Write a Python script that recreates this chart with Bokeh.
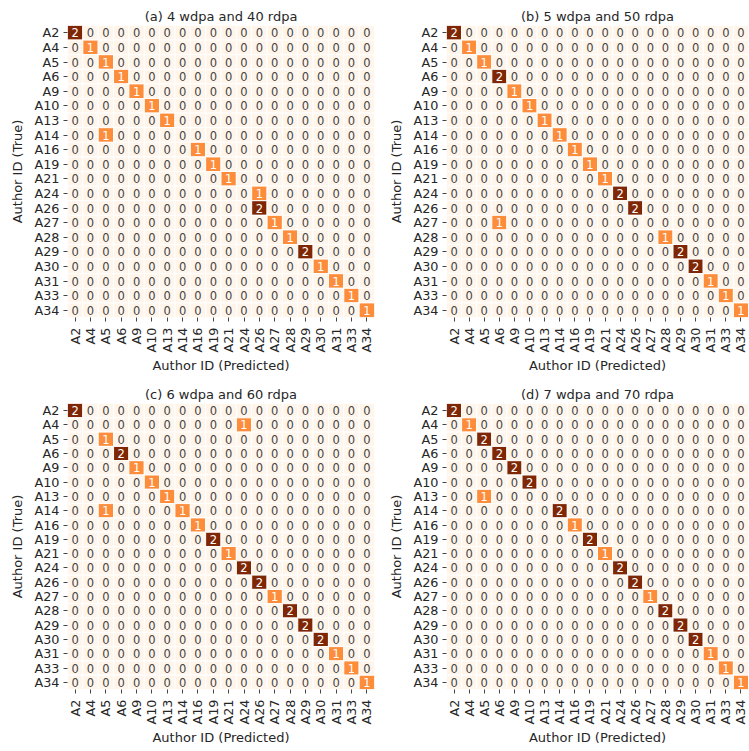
import math
from bokeh.plotting import figure
from bokeh.layouts import column, row
from bokeh.models import ColumnDataSource, FactorRange, LinearColorMapper
from bokeh.palettes import Oranges256
from bokeh.transform import transform
from bokeh.core.properties import value
from bokeh.embed import file_html
from bokeh.resources import INLINE

authors = ["A2", "A4", "A5", "A6", "A9", "A10", "A13", "A14", "A16", "A19",
           "A21", "A24", "A26", "A27", "A28", "A29", "A30", "A31", "A33", "A34"]

# Non-zero cells of each confusion matrix: (true author, predicted author, count)
a_true  = ["A2", "A4", "A5", "A6", "A9", "A10", "A13", "A14", "A16", "A19", "A21", "A24", "A26", "A27", "A28", "A29", "A30", "A31", "A33", "A34"]
a_pred  = ["A2", "A4", "A5", "A6", "A9", "A10", "A13", "A5",  "A16", "A19", "A21", "A26", "A26", "A27", "A28", "A29", "A30", "A31", "A33", "A34"]
a_count = [2, 1, 1, 1, 1, 1, 1, 1, 1, 1, 1, 1, 2, 1, 1, 2, 1, 1, 1, 1]

b_true  = ["A2", "A4", "A5", "A6", "A9", "A10", "A13", "A14", "A16", "A19", "A21", "A24", "A26", "A27", "A28", "A29", "A30", "A31", "A33", "A34"]
b_pred  = ["A2", "A4", "A5", "A6", "A9", "A10", "A13", "A14", "A16", "A19", "A21", "A24", "A26", "A6",  "A28", "A29", "A30", "A31", "A33", "A34"]
b_count = [2, 1, 1, 2, 1, 1, 1, 1, 1, 1, 1, 2, 2, 1, 1, 2, 2, 1, 1, 1]

c_true  = ["A2", "A4",  "A5", "A6", "A9", "A10", "A13", "A14", "A14", "A16", "A19", "A21", "A24", "A26", "A27", "A28", "A29", "A30", "A31", "A33", "A34"]
c_pred  = ["A2", "A24", "A5", "A6", "A9", "A10", "A13", "A5",  "A14", "A16", "A19", "A21", "A24", "A26", "A27", "A28", "A29", "A30", "A31", "A33", "A34"]
c_count = [2, 1, 1, 2, 1, 1, 1, 1, 1, 1, 2, 1, 2, 2, 1, 2, 2, 2, 1, 1, 1]

d_true  = ["A2", "A4", "A5", "A6", "A9", "A10", "A13", "A14", "A16", "A19", "A21", "A24", "A26", "A27", "A28", "A29", "A30", "A31", "A33", "A34"]
d_pred  = ["A2", "A4", "A5", "A6", "A9", "A10", "A5",  "A14", "A16", "A19", "A21", "A24", "A26", "A27", "A28", "A29", "A30", "A31", "A33", "A34"]
d_count = [2, 1, 2, 2, 2, 2, 1, 2, 1, 2, 1, 2, 2, 1, 2, 2, 2, 1, 1, 1]

titles = ["(a) 4 wdpa and 40 rdpa", "(b) 5 wdpa and 50 rdpa",
          "(c) 6 wdpa and 60 rdpa", "(d) 7 wdpa and 70 rdpa"]

FONT = "DejaVu Sans"
TXT = "#262626"
palette = list(reversed(Oranges256))


def full_matrix(true, pred, count):
    lookup = {(t, p): c for t, p, c in zip(true, pred, count)}
    xs, ys, vs = [], [], []
    for t in authors:
        for p in authors:
            xs.append(p)
            ys.append(t)
            vs.append(lookup.get((t, p), 0))
    return xs, ys, vs


def make(title, true, pred, count, width, height, mbl, mbr, mbt, mbb):
    xs, ys, vs = full_matrix(true, pred, count)
    src = ColumnDataSource(dict(
        pred=xs, true=ys, count=vs,
        label=[str(v) for v in vs],
        tcolor=["white" if v >= 1 else "#444444" for v in vs],
    ))
    mapper = LinearColorMapper(palette=palette, low=0, high=max(count))
    p = figure(width=width, height=height,
               x_range=FactorRange(*authors),
               y_range=FactorRange(*list(reversed(authors))),
               output_backend="svg", toolbar_location=None,
               min_border_left=mbl, min_border_right=mbr,
               min_border_top=mbt, min_border_bottom=mbb,
               x_axis_label="Author ID (Predicted)",
               y_axis_label="Author ID (True)")
    p.rect(x="pred", y="true", width=1, height=1, source=src,
           fill_color=transform("count", mapper),
           line_color="white", line_width=1)
    p.text(x="pred", y="true", text="label", source=src,
           text_align="center", text_baseline="middle",
           text_font=value(FONT), text_font_size="11.5px",
           text_color="tcolor")
    p.title.text = title
    p.title.align = "center"
    p.title.text_font = FONT
    p.title.text_font_size = "13px"
    p.title.text_font_style = "normal"
    p.title.text_color = TXT
    p.title.standoff = 4
    p.grid.visible = False
    p.outline_line_color = None
    for ax in (p.xaxis[0], p.yaxis[0]):
        ax.axis_line_color = None
        ax.major_tick_out = 4
        ax.major_tick_in = 0
        ax.minor_tick_line_color = None
        ax.major_tick_line_color = "#444444"
        ax.major_label_text_font = FONT
        ax.major_label_text_font_size = "12.8px"
        ax.major_label_text_color = TXT
        ax.major_label_standoff = 4
        ax.axis_label_text_font = FONT
        ax.axis_label_text_font_size = "13px"
        ax.axis_label_text_font_style = "normal"
        ax.axis_label_text_color = TXT
    p.yaxis.axis_label_standoff = 6
    p.xaxis.major_label_standoff = 6
    p.xaxis.axis_label_standoff = 2
    p.xaxis.major_label_orientation = math.pi / 2
    return p


pa = make(titles[0], a_true, a_pred, a_count, 386, 378, 67, 12, 25, 61)
pb = make(titles[1], b_true, b_pred, b_count, 362, 378, 58, 0, 25, 61)
pc = make(titles[2], c_true, c_pred, c_count, 386, 369, 67, 12, 25, 52)
pd = make(titles[3], d_true, d_pred, d_count, 362, 369, 58, 0, 25, 52)

layout = column(row(pa, pb), row(pc, pd))

open("out.html", "w").write(file_html(layout, INLINE))
